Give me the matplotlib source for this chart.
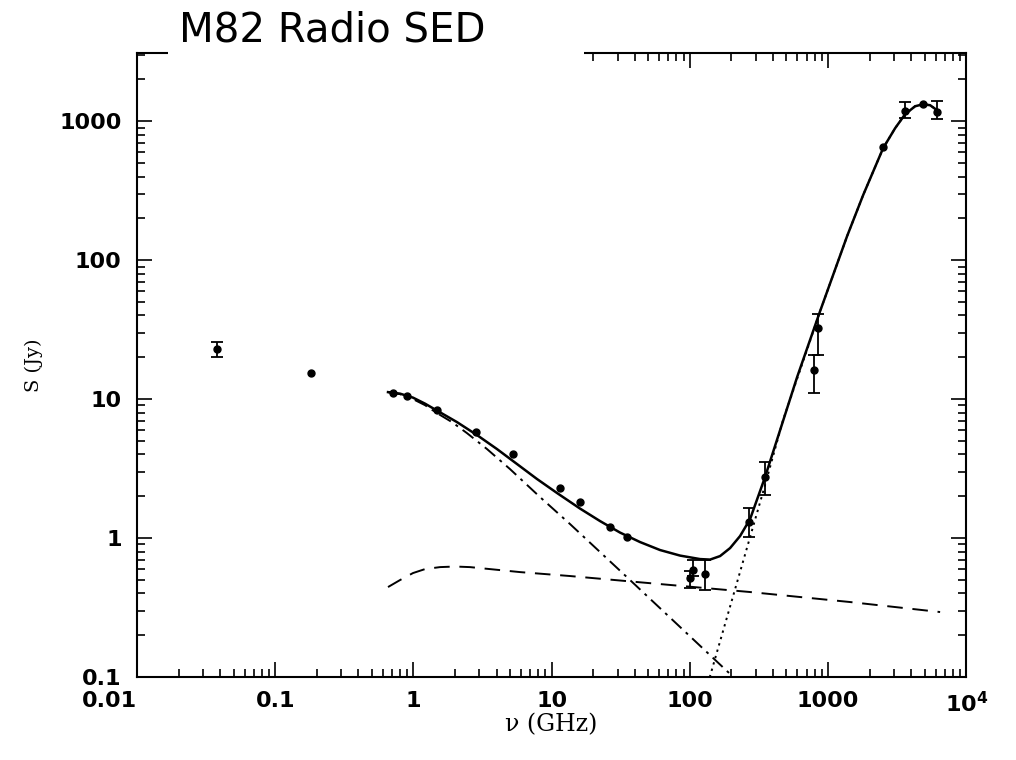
import matplotlib
matplotlib.use('Agg')
import matplotlib.pyplot as plt
from matplotlib.patches import Rectangle
from matplotlib.ticker import FixedLocator, LogLocator, NullFormatter
import numpy as np

# measured points (GHz, Jy)
pts_nu = [0.0378, 0.181, 0.711, 0.90, 1.48, 2.84, 5.28, 11.5, 16.1, 26.5, 35.3,
          101, 105, 129, 270, 350, 793, 851, 2500, 3610, 4865, 6110]
pts_S = [22.9, 15.5, 11.0, 10.5, 8.33, 5.82, 4.02, 2.28, 1.82, 1.21, 1.01,
         0.513, 0.589, 0.548, 1.31, 2.76, 16.2, 32.3, 650, 1180, 1325, 1167]
err_lo = [2.8, 0, 0, 0, 0, 0, 0, 0, 0, 0, 0,
          0.076, 0.06, 0.125, 0.29, 0.72, 5.2, 11.6, 0, 130, 0, 122]
err_hi = [2.8, 0, 0, 0, 0, 0, 0, 0, 0, 0, 0,
          0.07, 0.106, 0.147, 0.33, 0.78, 4.5, 9.0, 0, 190, 0, 233]

# model curves
total_nu = [0.655, 0.800, 0.993, 1.213, 1.482, 2.068, 2.886, 4.026, 5.618, 7.841,
            10.94, 16.05, 22.40, 31.26, 43.62, 60.87, 84.96, 118.5, 140.0, 165.4,
            195.4, 230.8, 272.7, 350.0, 596.8, 875.3, 1372, 1792, 2500, 3053,
            3607, 4261, 4868, 5473, 6146]
total_S = [11.23, 10.95, 10.25, 9.28, 8.27, 6.83, 5.51, 4.37, 3.41, 2.66,
           2.11, 1.63, 1.325, 1.095, 0.936, 0.820, 0.748, 0.706, 0.700, 0.742,
           0.847, 1.034, 1.370, 2.75, 14.40, 42.96, 148.8, 293.6, 639.3, 890.4,
           1123, 1282, 1325, 1304, 1200]

sync_nu = [0.655, 0.800, 0.993, 1.213, 1.482, 1.902, 2.442, 3.409, 5.000, 8.245,
           13.59, 22.40, 36.93, 84.96, 250.8]
sync_S = [11.23, 10.86, 10.0, 9.05, 7.93, 6.83, 5.69, 4.37, 3.136, 1.972,
          1.261, 0.793, 0.4986, 0.2290, 0.0833]

ff_nu = [0.655, 0.800, 0.993, 1.213, 1.557, 2.0, 2.568, 5.906, 13.59, 41.48,
         272.7, 1443, 6463]
ff_S = [0.444, 0.4986, 0.560, 0.598, 0.618, 0.624, 0.618, 0.569, 0.533, 0.4826,
        0.4089, 0.3464, 0.2935]

dust_nu = [131, 350, 472, 596.8, 875.3, 1372, 1792, 2500, 3053, 3607, 4261,
           4868, 5473, 6146]
dust_S = [0.0807, 2.41, 7.06, 14.0, 42.9, 148.8, 293.6, 639.3, 890.4, 1123, 1282,
          1325, 1304, 1200]

xtick_vals = [0.01, 0.1, 1, 10, 100, 1000, 1e4]
xtick_labels = ['0.01', '0.1', '1', '10', '100', '1000', r'$\mathbf{10^4}$']
ytick_vals = [0.1, 1, 10, 100, 1000]
ytick_labels = ['0.1', '1', '10', '100', '1000']

plt.rcParams['mathtext.fontset'] = 'dejavusans'

fig = plt.figure(figsize=(10.16, 7.6), dpi=100)
ax = fig.add_axes([0.1348, 0.1092, 0.8163, 0.8211])

ax.plot(dust_nu, dust_S, color='black', lw=1.4, dashes=[1.2, 2.2])
ax.plot(total_nu, total_S, '-', color='black', lw=1.8)
ax.plot(sync_nu, sync_S, color='black', lw=1.4, dashes=[7, 3, 1.5, 3])
ax.plot(ff_nu, ff_S, color='black', lw=1.4, dashes=[8, 5])

nu = np.array(pts_nu)
S = np.array(pts_S)
lo = np.array(err_lo)
hi = np.array(err_hi)
has_err = (lo + hi) > 0
ax.errorbar(nu[has_err], S[has_err], yerr=[lo[has_err], hi[has_err]], fmt='o',
            color='black', ms=5, elinewidth=1.3, capsize=4, capthick=1.3)
ax.plot(nu[~has_err], S[~has_err], 'o', color='black', ms=5)

ax.set_xscale('log')
ax.set_yscale('log')
ax.set_xlim(0.01, 1e4)
ax.set_ylim(0.1, 3100)

ax.xaxis.set_major_locator(FixedLocator(xtick_vals))
ax.set_xticklabels(xtick_labels)
ax.yaxis.set_major_locator(FixedLocator(ytick_vals))
ax.set_yticklabels(ytick_labels)
ax.xaxis.set_minor_locator(LogLocator(base=10, subs=np.arange(2, 10), numticks=20))
ax.yaxis.set_minor_locator(LogLocator(base=10, subs=np.arange(2, 10), numticks=20))
ax.xaxis.set_minor_formatter(NullFormatter())
ax.yaxis.set_minor_formatter(NullFormatter())

ax.tick_params(which='both', direction='in', top=True, right=True, width=1.2)
ax.tick_params(which='major', length=11)
ax.tick_params(axis='y', which='major', pad=11)
ax.tick_params(axis='x', which='major', pad=10)
ax.tick_params(which='minor', length=6)
for lab in ax.get_xticklabels() + ax.get_yticklabels():
    lab.set_fontfamily('DejaVu Sans')
    lab.set_fontweight('bold')
    lab.set_fontsize(16)
ax.get_xticklabels()[0].set_horizontalalignment('right')
for sp in ax.spines.values():
    sp.set_linewidth(1.5)

ax.set_xlabel('ν (GHz)', fontfamily='DejaVu Serif', fontsize=17, labelpad=-2)
ax.set_ylabel('S (Jy)', fontfamily='DejaVu Serif', fontsize=14, labelpad=12)

# title box over the top frame
fig.patches.append(Rectangle((0.1654, 0.9105), 0.4094, 0.0895, transform=fig.transFigure,
                             facecolor='white', edgecolor='none', zorder=5))
fig.text(0.176, 0.946, 'M82 Radio SED', fontfamily='DejaVu Sans', fontweight='normal',
         fontsize=29, va='baseline', ha='left', zorder=6)

fig.savefig('out.png', dpi=100)
